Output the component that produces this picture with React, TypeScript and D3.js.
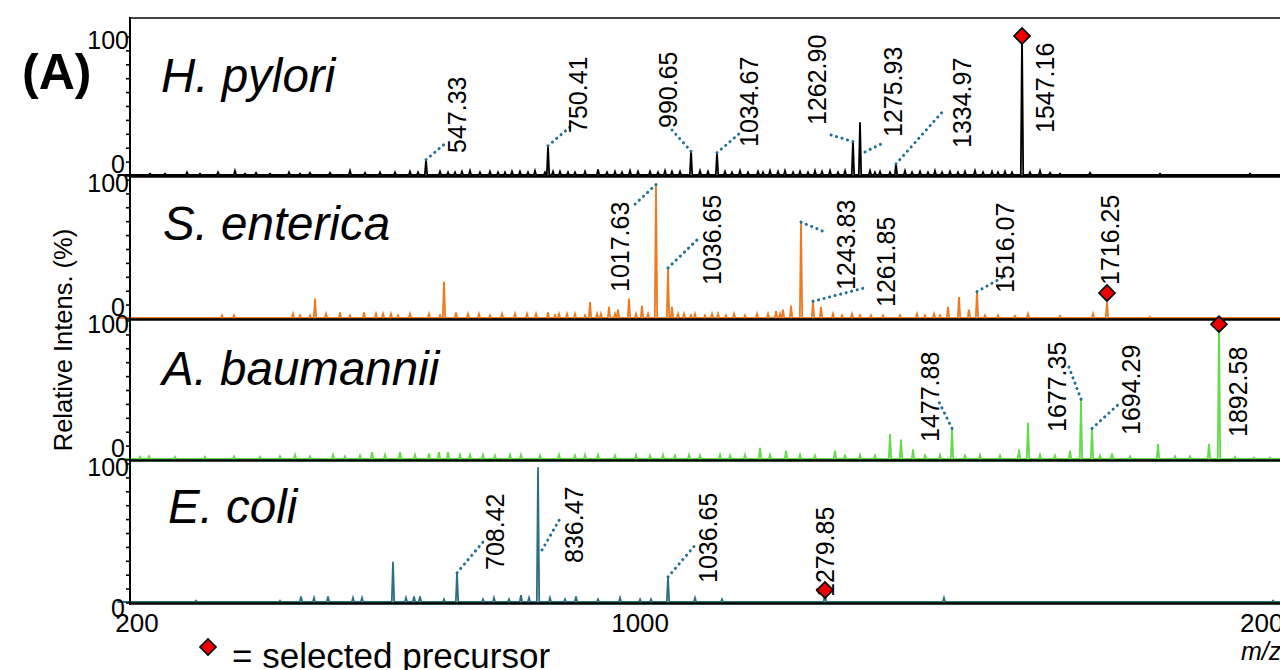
import React from "react";
import * as d3 from "d3";

// ---------- data ----------
const species = ["H. pylori", "S. enterica", "A. baumannii", "E. coli"];
const lineColors = ["#000000", "#ee7a22", "#62dc48", "#2b6f82"];
const xTickValues = [200, 1000, 2000];
const yTickValues = [0, 10, 20, 30, 40, 50, 60, 70, 80, 90, 100];
const yLabelValues = [0, 100];

// peaks: [position on the m/z axis, relative intensity %]
const hPyloriPeaks: [number, number][] = [
  [231.8, 1], [255.7, 1], [290.6, 2], [311.3, 1], [339.9, 2], [366.9, 3], [382.9, 1],
  [400.4, 1.5], [422.6, 1], [452.8, 2], [470.3, 1], [486.2, 1.5], [518.0, 1.5], [549.8, 3],
  [573.7, 1.5], [597.5, 2], [621.4, 2], [645.2, 2.5], [658.0, 2], [670.7, 11], [692.9, 2.5],
  [705.7, 2], [716.8, 2], [727.9, 2.5], [740.6, 3], [756.5, 2], [772.4, 2.5], [785.2, 2],
  [796.3, 2], [807.4, 2.5], [820.1, 2.5], [832.9, 2], [844.0, 3], [859.9, 2], [864.7, 21],
  [872.6, 2.5], [883.7, 2.5], [896.5, 2], [907.6, 2], [923.5, 2.5], [944.2, 4], [958.5, 2],
  [971.2, 2.5], [982.3, 2], [995.1, 3], [1007.8, 2.5], [1026.9, 2.5], [1039.6, 2],
  [1050.7, 3], [1061.8, 2.5], [1074.6, 2.5], [1092.1, 17], [1106.4, 3], [1119.1, 2.5],
  [1133.4, 16], [1146.1, 2.5], [1157.2, 2], [1170.0, 3], [1182.7, 2], [1198.6, 2.5],
  [1206.6, 2], [1217.7, 3], [1230.4, 2.5], [1241.5, 3], [1254.3, 2], [1265.4, 2.5],
  [1278.1, 2], [1289.2, 3], [1300.4, 2.5], [1313.1, 3], [1325.8, 2], [1337.0, 3],
  [1349.6, 24], [1360.8, 38], [1376.7, 3], [1384.6, 2], [1392.6, 2.5], [1408.5, 2],
  [1418.0, 8], [1432.3, 3], [1443.5, 2], [1456.2, 2.5], [1468.9, 2], [1480.0, 3],
  [1491.2, 2], [1503.9, 2.5], [1516.6, 2], [1527.7, 2.5], [1543.6, 3], [1556.4, 2],
  [1570.7, 2.5], [1580.2, 2], [1591.3, 2.5], [1602.5, 2], [1618.4, 100], [1631.1, 2],
  [1647.0, 3], [1662.9, 1.5], [1678.8, 1], [1726.5, 1.5], [1837.8, 1], [1980.9, 1],
];
const sEntericaPeaks: [number, number][] = [
  [346.3, 2], [365.4, 2], [459.2, 3], [470.3, 2], [486.2, 2], [494.2, 14], [511.7, 3],
  [533.9, 4], [549.8, 2], [572.1, 4], [591.2, 3], [602.3, 3], [615.0, 3], [626.2, 2],
  [645.2, 3], [675.4, 3], [692.9, 2], [699.3, 26], [718.4, 4], [737.5, 3], [754.9, 3],
  [772.4, 2], [791.5, 3], [812.2, 3], [831.3, 3], [845.6, 3], [864.7, 4], [875.8, 2],
  [882.2, 3], [894.9, 3], [907.6, 3], [923.5, 2], [931.5, 11.5], [942.6, 3], [948.9, 3],
  [961.7, 8], [971.2, 3], [976, 6], [993.5, 14], [1004.6, 3], [1014.1, 9], [1023.7, 3],
  [1036.4, 96], [1055.5, 36], [1061.8, 8], [1071.4, 3], [1080.9, 3], [1092.0, 2],
  [1098.4, 3], [1114.3, 2], [1125.5, 3], [1135.0, 3], [1147.7, 2], [1160.4, 3], [1177.9, 2],
  [1197.0, 3], [1214.5, 3], [1227.2, 5], [1233.6, 3], [1238.3, 6], [1251.1, 9], [1267, 69],
  [1286, 12], [1298.8, 8], [1317.8, 3], [1332.2, 2], [1348, 3], [1360.8, 2], [1378.3, 2],
  [1397.4, 2], [1424.4, 2], [1451.4, 3], [1464.2, 2], [1478.5, 3], [1488.0, 2],
  [1500.7, 8], [1518.2, 15], [1534.1, 6], [1546.8, 19], [1559.5, 2], [1580.2, 2],
  [1607.2, 1.5], [1627.9, 3], [1678.8, 1.5], [1731.3, 3], [1753.5, 11.5], [1821.9, 1],
];
const aBaumanniiPeaks: [number, number][] = [
  [215.9, 1.5], [230.2, 2], [271.6, 1.5], [319.3, 1.5], [365.4, 2], [406.7, 1.5],
  [438.5, 2], [462.4, 3], [486.2, 2], [522.8, 3], [541.9, 2], [565.7, 2.5], [584.8, 5],
  [605.5, 3], [629.3, 5], [653.2, 3], [675.4, 4], [691.3, 5], [705.7, 5], [724.7, 3],
  [740.6, 3], [761.3, 3], [780.4, 2.5], [804.2, 3], [821.7, 3], [852.0, 2.5], [882.2, 3],
  [907.6, 2.5], [923.5, 3], [944.2, 3], [971.2, 2.5], [1004.6, 3], [1026.9, 2.5],
  [1047.5, 3], [1066.6, 2.5], [1088.9, 3], [1106.4, 2.5], [1138.2, 3], [1154.1, 2.5],
  [1177.9, 3], [1201.8, 8], [1217.7, 3], [1243.1, 6], [1265.4, 3], [1289.2, 2.5],
  [1321, 6], [1336.9, 2.5], [1360.8, 3], [1384.6, 2.5], [1408.5, 18], [1426, 14],
  [1445.1, 7], [1464.2, 2.5], [1488.0, 3], [1507.1, 22], [1527.7, 2.5], [1551.6, 3],
  [1583.4, 2.5], [1613.6, 7], [1627.9, 26], [1647.0, 3], [1670.8, 2.5], [1694.7, 6],
  [1712.2, 43], [1729.7, 22], [1742.4, 2.5], [1761.5, 4], [1790.1, 2], [1834.6, 11],
  [1861.6, 2], [1885.5, 2], [1915.7, 11], [1931.6, 100], [1957.1, 1.5], [1987.3, 1],
  [2012.7, 1],
];
const eColiPeaks: [number, number][] = [
  [304.9, 1], [438.5, 1], [471.9, 4], [492.6, 3], [514.8, 4], [554.6, 3], [568.9, 3],
  [618.2, 29], [638.9, 3], [651.6, 4], [661.1, 4], [699.3, 2], [720, 21], [761.3, 2],
  [778.8, 3], [802.7, 2], [821.7, 5], [834.5, 3], [848.8, 97], [867.8, 3], [891.7, 2],
  [909.2, 4], [944.2, 2], [979.2, 3], [1011, 2], [1028.4, 2], [1055.5, 18], [1098.4, 3],
  [1141.3, 2], [1305.1, 8], [1494.3, 3], [2017.5, 1],
];
const allPeaks = [hPyloriPeaks, sEntericaPeaks, aBaumanniiPeaks, eColiPeaks];

// labelled peaks: [label text, peak position]
const hPyloriLabels: [string, number][] = [
  ["547.33", 670.7], ["750.41", 864.7], ["990.65", 1092.1], ["1034.67", 1133.4],
  ["1262.90", 1349.6], ["1275.93", 1360.8], ["1334.97", 1418.0], ["1547.16", 1618.4],
];
const sEntericaLabels: [string, number][] = [
  ["1017.63", 1036.4], ["1036.65", 1055.5], ["1243.83", 1267], ["1261.85", 1286],
  ["1516.07", 1546.8], ["1716.25", 1753.5],
];
const aBaumanniiLabels: [string, number][] = [
  ["1477.88", 1507.1], ["1677.35", 1712.2], ["1694.29", 1729.7], ["1892.58", 1931.6],
];
const eColiLabels: [string, number][] = [
  ["708.42", 720], ["836.47", 848.8], ["1036.65", 1055.5], ["1279.85", 1305.1],
];
const allLabels = [hPyloriLabels, sEntericaLabels, aBaumanniiLabels, eColiLabels];

// selected precursor markers: [position, intensity]
const precursors: [number, number][] = [[1618.4, 100], [1753.5, 18], [1931.6, 97], [1305.1, 8.6]];

// ---------- layout (pixels) ----------
const W = 1280;
const H = 670;
const X0 = 130;
const X2000 = 1262;
const PANEL_Y0 = [176, 319, 460, 603];
const PX100 = 139;
const FRAME_TOP = 18;
const SPECIES_POS = [[161, 92], [163, 240], [162, 385], [168, 523]];
// per label: [label dx, label bottom above baseline, leader start dx, leader start height (null = peak top), leader end dx, leader end height]
const LABEL_LAYOUT: (number | null)[][][] = [
  [[31, 23, 0, null, 21, 34], [30, 43, 0, null, 22, 49], [-23, 48, 0, null, -19, 46],
   [32, 29, 0, null, 23, 43], [-36, 51, 0, null, -25, 42], [33, 39, 5, 24, 23, 33],
   [66, 28, 0, null, 49, 67], [23, 43]],
  [[-36, 27, 0, null, -24, 112], [44, 34, 0, null, 31, 81], [45, 29, 0, null, 24, 87],
   [73, 12, 0, null, 55, 32], [28, 26, 0, null, 28, 43], [3, 34]],
  [[-22, 18, 0, null, -14, 60], [-24, 28, 0, null, -14, 98], [39, 25, 0, null, 28, 57], [19, 23]],
  [[38, 33, 0, null, 26, 61], [36, 40, 4, 53, 23, 86], [40, 20, 0, null, 29, 60], [0, 6]],
];

const FONT = "'Liberation Sans', Arial, Helvetica, sans-serif";
const LEADER = "#1f6e94";
const HALF_W = 1.9;

const x = d3.scaleLinear().domain([200, 2000]).range([X0, X2000]);

function Diamond({ cx, cy }: { cx: number; cy: number }) {
  const p = d3.symbol().type(d3.symbolSquare).size(130)() as string;
  return (
    <path d={p} transform={`translate(${cx},${cy}) rotate(45)`} fill="#ee0000" stroke="#000" strokeWidth={1.6} />
  );
}

export default function App() {
  const panels = species.map((name, i) => {
    const y0 = PANEL_Y0[i];
    const y = d3.scaleLinear().domain([0, 100]).range([y0 - 1, y0 - 1 - PX100]);
    const pts: [number, number][] = [[180, 0]];
    const sorted = [...allPeaks[i]].sort((a, b) => a[0] - b[0]);
    sorted.forEach(([m, h]) => {
      pts.push([m - HALF_W, 0], [m, h], [m + HALF_W, 0]);
    });
    pts.push([2100, 0]);
    const line = d3.line<[number, number]>().x((d) => x(d[0])).y((d) => y(d[1]));
    const peakMap = new Map(allPeaks[i].map((p) => [p[0], p[1]]));
    return (
      <g key={name}>
        <path d={line(pts) as string} fill="none" stroke={lineColors[i]} strokeWidth={1.8} strokeLinejoin="miter" />
        <line x1={X0} x2={W} y1={y0 + 0.5} y2={y0 + 0.5} stroke="#000" strokeWidth={2.4} />
        {yTickValues.map((t) => (
          <line key={t} x1={X0 - 4} x2={X0} y1={y(t) + 1} y2={y(t) + 1} stroke="#000" strokeWidth={1.6} />
        ))}
        {yLabelValues.map((t) => (
          <text
            key={t}
            x={t === 0 ? 125 : 129}
            y={t === 0 ? (i === 3 ? y0 + 14 : y0 - 3) : y(t) + 13}
            textAnchor="end"
            fontSize={25}
            fontFamily={FONT}
          >
            {t}
          </text>
        ))}
        <text
          x={SPECIES_POS[i][0]}
          y={SPECIES_POS[i][1]}
          fontSize={47.5}
          fontStyle="italic"
          fontFamily={FONT}
        >
          {name}
        </text>
        {allLabels[i].map(([txt, m], j) => {
          const lay = LABEL_LAYOUT[i][j];
          const px = x(m);
          const h = peakMap.get(m) ?? 0;
          const [dx, lb, sdx, sh, edx, eh] = lay;
          const hasLeader = lay.length > 2;
          return (
            <g key={txt}>
              {hasLeader && (
                <line
                  x1={px + (sdx as number)}
                  y1={sh === null ? y(h) : y0 - (sh as number)}
                  x2={px + (edx as number)}
                  y2={y0 - (eh as number)}
                  stroke={LEADER}
                  strokeWidth={3}
                  strokeLinecap="round"
                  strokeDasharray="0.1 5.6"
                />
              )}
              <text
                transform={`translate(${px + (dx as number)},${y0 - (lb as number)}) rotate(-90)`}
                dy="0.36em"
                fontSize={25}
                fontFamily={FONT}
              >
                {txt}
              </text>
            </g>
          );
        })}
        <Diamond cx={x(precursors[i][0])} cy={y(precursors[i][1])} />
      </g>
    );
  });

  return (
    <svg
      width={W}
      height={H}
      style={{ position: "absolute", left: 0, top: 0, background: "#fff" }}
      fontFamily={FONT}
    >
      <rect x={0} y={0} width={W} height={H} fill="#fff" />
      {panels}
      <line x1={X0} x2={W} y1={FRAME_TOP} y2={FRAME_TOP} stroke="#444" strokeWidth={2} />
      <line x1={X0} x2={X0} y1={FRAME_TOP - 1} y2={PANEL_Y0[3] + 2} stroke="#000" strokeWidth={2} />
      {xTickValues.map((v) => (
        <text key={v} x={x(v) + 7} y={632} textAnchor="middle" fontSize={26}>
          {v}
        </text>
      ))}
      <text x={1241} y={660} fontSize={25} fontStyle="italic">m/z</text>
      <text x={22} y={89} fontSize={50} fontWeight="bold">(A)</text>
      <text transform="translate(72,340) rotate(-90)" textAnchor="middle" fontSize={25.5}>
        Relative Intens. (%)
      </text>
      <Diamond cx={208} cy={647} />
      <text x={232} y={668} fontSize={35}>= selected precursor</text>
    </svg>
  );
}
